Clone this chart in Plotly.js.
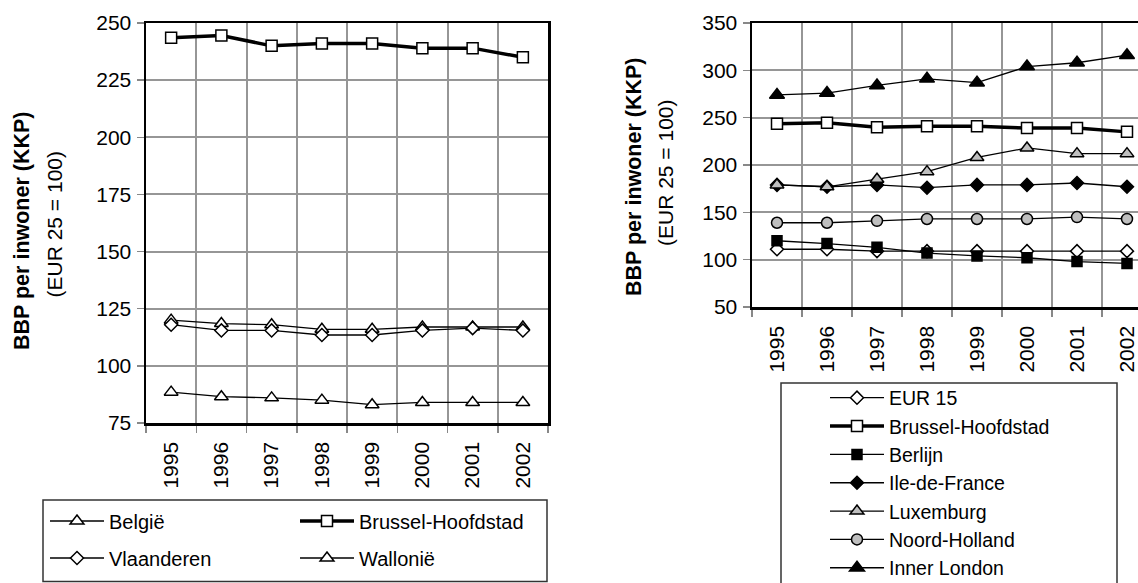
<!DOCTYPE html>
<html><head><meta charset="utf-8">
<script src="https://cdn.plot.ly/plotly-3.0.1.min.js"></script>
<style>html,body{margin:0;padding:0;background:#fff;overflow:hidden}#chart{width:1138px;height:583px}</style>
</head><body><div id="chart"></div>
<script>
// ---- data ----
const years = ['1995', '1996', '1997', '1998', '1999', '2000', '2001', '2002'];
const belgie = [120, 118.5, 118, 116, 116, 117, 117, 117];
const brussel = [243.5, 244.5, 240, 241, 241, 239, 239, 235];
const vlaanderen = [118, 115.5, 115.5, 113.5, 113.5, 115.5, 116.5, 115.5];
const wallonie = [88.5, 86.5, 86, 85, 83, 84, 84, 84];
const eur15 = [111, 111, 109, 109, 109, 109, 109, 109];
const berlijn = [120, 117, 113, 107, 104, 102, 98, 96];
const ileDeFrance = [179, 177, 179, 176, 179, 179, 181, 177];
const luxemburg = [179, 177, 185, 193, 208, 218, 212, 212];
const noordHolland = [139, 139, 141, 143, 143, 143, 145, 143];
const innerLondon = [274, 276, 284, 291, 287, 304, 308, 316];

const leftYTicks = [75, 100, 125, 150, 175, 200, 225, 250];
const rightYTicks = [50, 100, 150, 200, 250, 300, 350];
const yTitle = 'BBP per inwoner (KKP)';
const ySubTitle = '(EUR 25 = 100)';

// ---- layout helpers ----
const W = 1138, H = 583;
const px = v => v / W;
const py = v => 1 - v / H;
const FONT = 'Arial, "Liberation Sans", sans-serif';
const GREY = '#bfbfbf';

function tr(name, y, axes, legend, symbol, fill, lw, size, group) {
  const t = {
    type: 'scatter', mode: 'lines+markers', name: name, x: years, y: y,
    xaxis: axes[0], yaxis: axes[1], legend: legend,
    line: {color: '#000', width: lw},
    marker: {symbol: symbol, size: size, color: fill, line: {color: '#000', width: 1.5}},
    hoverinfo: 'skip'
  };
  if (group) t.legendgroup = group;
  return t;
}

const L = ['x', 'y'], R = ['x2', 'y2'];
const data = [
  tr('België', belgie, L, 'legend', 'triangle-up', '#fff', 1.3, 12, 'g1'),
  tr('Brussel-Hoofdstad', brussel, L, 'legend2', 'square', '#fff', 3.5, 11, 'g2'),
  tr('Vlaanderen', vlaanderen, L, 'legend', 'diamond', '#fff', 1.3, 10, 'g3'),
  tr('Wallonië', wallonie, L, 'legend2', 'triangle-up', '#fff', 1.3, 12, 'g4'),
  tr('EUR 15', eur15, R, 'legend3', 'diamond', '#fff', 1.3, 10),
  tr('Brussel-Hoofdstad', brussel, R, 'legend3', 'square', '#fff', 3.5, 11),
  tr('Berlijn', berlijn, R, 'legend3', 'square', '#000', 1.3, 10),
  tr('Ile-de-France', ileDeFrance, R, 'legend3', 'diamond', '#000', 1.3, 10),
  tr('Luxemburg', luxemburg, R, 'legend3', 'triangle-up', GREY, 1.3, 12),
  tr('Noord-Holland', noordHolland, R, 'legend3', 'circle', GREY, 1.3, 11),
  tr('Inner London', innerLondon, R, 'legend3', 'triangle-up', '#000', 1.3, 13)
];

function xAxis(domain, range, anchor) {
  return {
    type: 'category', domain: domain, range: range, anchor: anchor,
    tickson: 'boundaries', showgrid: true, gridcolor: '#969696', gridwidth: 2,
    showline: true, linecolor: '#000', linewidth: 2.5, mirror: true,
    ticks: 'outside', ticklen: 7, tickwidth: 1.5, tickcolor: '#888',
    tickangle: -90, tickfont: {family: FONT, size: 21, color: '#000'},
    ticklabelstandoff: 8, zeroline: false, fixedrange: true
  };
}
function yAxis(domain, range, ticks, anchor, mirror) {
  return {
    domain: domain, range: range, anchor: anchor,
    tickmode: 'array', tickvals: ticks, ticktext: ticks.map(String),
    showgrid: true, gridcolor: '#969696', gridwidth: 2,
    showline: true, linecolor: '#000', linewidth: 2.5, mirror: mirror,
    ticks: 'outside', ticklen: 7, tickwidth: 1.5, tickcolor: '#888',
    tickfont: {family: FONT, size: 21, color: '#000'},
    ticklabelstandoff: 1, zeroline: false, fixedrange: true
  };
}
function legendCfg(x, y, gap, size) {
  return {
    x: x, y: y, xanchor: 'left', yanchor: 'top', orientation: 'v',
    bgcolor: 'rgba(0,0,0,0)', borderwidth: 0, itemwidth: 54,
    traceorder: 'grouped', tracegroupgap: gap,
    font: {family: FONT, size: size, color: '#000'}, itemclick: false, itemdoubleclick: false
  };
}
function rotTitle(text, x, y, bold) {
  return {
    xref: 'paper', yref: 'paper', x: px(x), y: py(y), xanchor: 'center', yanchor: 'middle',
    text: bold ? '<b>' + text + '</b>' : text, textangle: -90, showarrow: false,
    font: {family: FONT, size: bold ? 21.5 : 21, color: '#000'}
  };
}

const layout = {
  width: W, height: H, margin: {l: 0, r: 0, t: 0, b: 0, autoexpand: false},
  paper_bgcolor: '#fff', plot_bgcolor: '#fff', showlegend: true,
  font: {family: FONT, color: '#000'},
  xaxis: xAxis([px(146), px(548)], [-0.5, 7.5], 'y'),
  yaxis: yAxis([py(423), py(23)], [75, 250], leftYTicks, 'x', true),
  xaxis2: xAxis([px(752), 1], [-0.5, 7.22], 'y2'),
  yaxis2: yAxis([py(307), py(23)], [50, 350], rightYTicks, 'x2', false),
  legend: legendCfg(px(45), py(501.5), 8, 20),
  legend2: legendCfg(px(295), py(501.5), 8, 20),
  legend3: legendCfg(px(825), py(378.5), 0, 19.5),
  annotations: [
    rotTitle(yTitle, 22, 231, true),
    rotTitle(ySubTitle, 53.5, 224, false),
    rotTitle(yTitle, 634, 177, true),
    rotTitle(ySubTitle, 666, 173, false)
  ],
  shapes: [
    {type: 'rect', xref: 'paper', yref: 'paper', x0: px(43), x1: px(547), y0: py(581.5), y1: py(500),
     line: {color: '#333', width: 1.5}, fillcolor: 'rgba(0,0,0,0)', layer: 'below'},
    {type: 'rect', xref: 'paper', yref: 'paper', x0: px(781), x1: px(1117), y0: -0.1, y1: py(383),
     line: {color: '#333', width: 1.5}, fillcolor: 'rgba(0,0,0,0)', layer: 'below'}
  ]
};

Plotly.newPlot('chart', data, layout, {displayModeBar: false, staticPlot: true});
</script>
</body></html>
